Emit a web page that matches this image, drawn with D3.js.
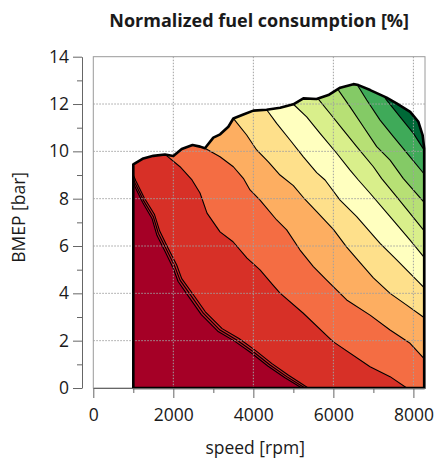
<!DOCTYPE html>
<html>
<head>
<meta charset="utf-8">
<script src="https://cdn.jsdelivr.net/npm/d3@7"></script>
<style>
body{margin:0;background:#fff;}
text{font-family:"Open Sans",sans-serif;fill:#1a1a1a;}
</style>
</head>
<body>
<svg id="fuelmap"></svg>
<script>
// full load curve (speed rpm / bmep bar)
const wotSpeed=[1000,1000,1250,1500,1790,2000,2210,2480,2670,2790,3000,3170,3375,3500,3750,4000,4330,4670,5000,5250,5580,5875,6170,6500,6625,6920,7330,7580,7920,8125,8230,8270,8270];
const wotBmep=[0,9.45,9.70,9.81,9.87,9.80,10.10,10.27,10.20,10.13,10.58,10.72,11.04,11.39,11.56,11.72,11.76,11.84,11.99,12.24,12.21,12.38,12.69,12.84,12.80,12.59,12.27,12.03,11.67,11.25,10.69,10.13,0];

// contour lines, [speed, bmep]
const tripA=[[1000,8.70],[1030,8.55],[1230,7.85],[1470,7.15],[1590,6.45],[1800,5.75],[2000,5.05],[2120,4.50],[2410,3.80],[2700,3.10],[3110,2.40],[3530,1.98],[3950,1.48],[4370,0.92],[4790,0.43],[5210,0]];
const tripB=[[1000,8.85],[1045,8.65],[1250,7.94],[1500,7.24],[1625,6.54],[1835,5.83],[2042,5.12],[2167,4.56],[2460,3.86],[2750,3.16],[3167,2.45],[3585,2.03],[4000,1.53],[4417,0.97],[4835,0.48],[5290,0]];
const tripC=[[1000,9.00],[1065,8.75],[1275,8.03],[1530,7.33],[1660,6.63],[1870,5.91],[2085,5.20],[2210,4.62],[2510,3.92],[2800,3.22],[3220,2.51],[3640,2.09],[4050,1.59],[4465,1.03],[4880,0.54],[5370,0]];
const lineB=[[1817,9.84],[2167,9.35],[2467,8.79],[2667,8.24],[2842,7.39],[3167,6.60],[3492,6.18],[3842,5.49],[4167,4.99],[4492,4.35],[4667,4.01],[5242,3.17],[5992,1.96],[6917,0.90],[7417,0.48],[7835,0]];
const lineC=[[2790,10.13],[3167,9.77],[3500,9.35],[3750,8.86],[3917,8.37],[4167,7.94],[4583,7.10],[4833,6.68],[5167,5.83],[5500,5.13],[5833,4.56],[6333,3.72],[6917,3.08],[7417,2.45],[7917,1.89],[8290,1.20]];
const lineD=[[3500,11.39],[3833,10.69],[4083,10.06],[4375,9.56],[4667,9.00],[5000,8.55],[5250,8.05],[5583,7.45],[6000,6.70],[6333,5.95],[6667,5.30],[7000,4.65],[7417,4.00],[7833,3.50],[8290,2.95]];
const lineE=[[4333,11.76],[4583,11.18],[4917,10.48],[5250,9.77],[5583,9.10],[5792,8.79],[6167,7.94],[6583,7.24],[7167,6.11],[7583,5.41],[8083,4.56],[8290,4.20]];
const lineF=[[5000,11.99],[5333,11.46],[5667,10.76],[6083,9.92],[6417,9.21],[6625,8.79],[6917,8.23],[7417,7.24],[7917,6.25],[8290,5.48]];
const lineG=[[5625,12.21],[5917,11.60],[6250,10.90],[6583,10.20],[7000,9.35],[7208,8.85],[7583,8.08],[7917,7.38],[8290,6.60]];
const lineH=[[6125,12.59],[6417,11.88],[6750,11.04],[7083,10.20],[7417,9.63],[7750,8.85],[8290,7.80]];
const lineI=[[6583,12.85],[6833,12.17],[7167,11.32],[7500,10.62],[7917,9.77],[8290,9.00]];
const lineJ=[[7292,12.25],[7667,11.46],[8000,10.76],[8290,10.00]];

const contourLines=[tripA,tripB,tripC,lineB,lineC,lineD,lineE,lineF,lineG,lineH,lineI,lineJ];
// one colour per band, lowest band first
const bandColors=["#a50026","#bd1727","#ca2427","#d73027","#f46d43","#fdae61","#fee08b","#ffffbf","#d9ef8b","#b7e075","#84ca66","#3faa59","#006837"];

const xTicks=[0,2000,4000,6000,8000];
const xMinor=[1000,3000,5000,7000];
const yTicks=[0,2,4,6,8,10,12,14];
const yMinor=[1,3,5,7,9,11,13];

function fuelmap(){
    const width=436;
    const height=462;
    const left=93.3, right=425, top=56.7, bottom=388;
    const svg=d3.select("#fuelmap")
        .attr("width",width)
        .attr("height",height);

    const x=d3.scaleLinear().domain([0,8290]).range([left,right]);
    const y=d3.scaleLinear().domain([0,14]).range([bottom,top]);
    const line=d3.line().x(d=>x(d[0])).y(d=>y(d[1]));

    const wot=wotSpeed.map((s,i)=>[s,wotBmep[i]]);

    // plot frame
    svg.append("rect")
        .attr("x",left).attr("y",top)
        .attr("width",right-left).attr("height",bottom-top)
        .attr("fill","#fff").attr("stroke","#9a9a9a").attr("stroke-width",1);

    // clip everything to the full load area
    svg.append("clipPath").attr("id","wotclip")
        .append("path").attr("d",line(wot)+"Z");
    const g=svg.append("g").attr("clip-path","url(#wotclip)");

    g.append("path").attr("d",line(wot)+"Z").attr("fill",bandColors[0]);
    // each band = area above/right of its contour line
    contourLines.forEach(function(c,i){
        const poly=c.concat([[10000,-5],[10000,20],[c[0][0],20]]);
        g.append("path").attr("d",line(poly)+"Z")
            .attr("fill",bandColors[i+1]);
    });
    contourLines.forEach(function(c){
        g.append("path").attr("d",line(c))
            .attr("fill","none")
            .attr("stroke","#000")
            .attr("stroke-width",1.1)
            .attr("stroke-linejoin","round");
    });

    // dotted grid on top
    const grid=svg.append("g")
        .attr("stroke","#a0a0a0")
        .attr("stroke-width",1)
        .attr("stroke-dasharray","1.5,1.5");
    grid.selectAll(".gx").data(xTicks.filter(d=>d>0)).join("line")
        .attr("x1",d=>x(d)).attr("x2",d=>x(d))
        .attr("y1",top).attr("y2",bottom);
    grid.selectAll(".gy").data(yTicks.filter(d=>d>0&&d<14)).join("line")
        .attr("x1",left).attr("x2",right)
        .attr("y1",d=>y(d)).attr("y2",d=>y(d));

    // full load line
    svg.append("path").attr("d",line(wot)+"Z")
        .attr("fill","none")
        .attr("stroke","#000")
        .attr("stroke-width",2.6)
        .attr("stroke-linejoin","round");

    // axes
    svg.append("g").attr("transform","translate(0,"+bottom+")")
        .call(d3.axisBottom(x).tickValues(xTicks).tickFormat(d3.format("d"))
            .tickSize(10).tickSizeOuter(0).tickPadding(11));
    svg.append("g").attr("transform","translate(0,"+bottom+")")
        .call(d3.axisBottom(x).tickValues(xMinor).tickSize(5).tickSizeOuter(0).tickFormat(""))
        .select(".domain").remove();
    svg.append("g").attr("transform","translate(82,0)")
        .call(d3.axisLeft(y).tickValues(yTicks).tickSize(9).tickSizeOuter(0).tickPadding(4));
    svg.append("g").attr("transform","translate(82,0)")
        .call(d3.axisLeft(y).tickValues(yMinor).tickSize(5).tickSizeOuter(0).tickFormat(""))
        .select(".domain").remove();
    svg.selectAll(".domain, .tick line").attr("stroke","#666");
    svg.selectAll(".tick text").style("font-size","17.5px").attr("fill","#1a1a1a");

    svg.append("text")
        .attr("x",(left+right)/2-4).attr("y",454)
        .attr("text-anchor","middle")
        .style("font-size","17.5px")
        .text("speed [rpm]");
    svg.append("text")
        .attr("transform","translate(25,"+((top+bottom)/2-5)+") rotate(-90)")
        .attr("text-anchor","middle")
        .style("font-size","17.5px")
        .text("BMEP [bar]");
    svg.append("text")
        .attr("x",(left+right)/2).attr("y",27)
        .attr("text-anchor","middle")
        .style("font-size","18px")
        .style("font-weight","bold")
        .text("Normalized fuel consumption [%]");
}
fuelmap();
</script>
</body>
</html>
